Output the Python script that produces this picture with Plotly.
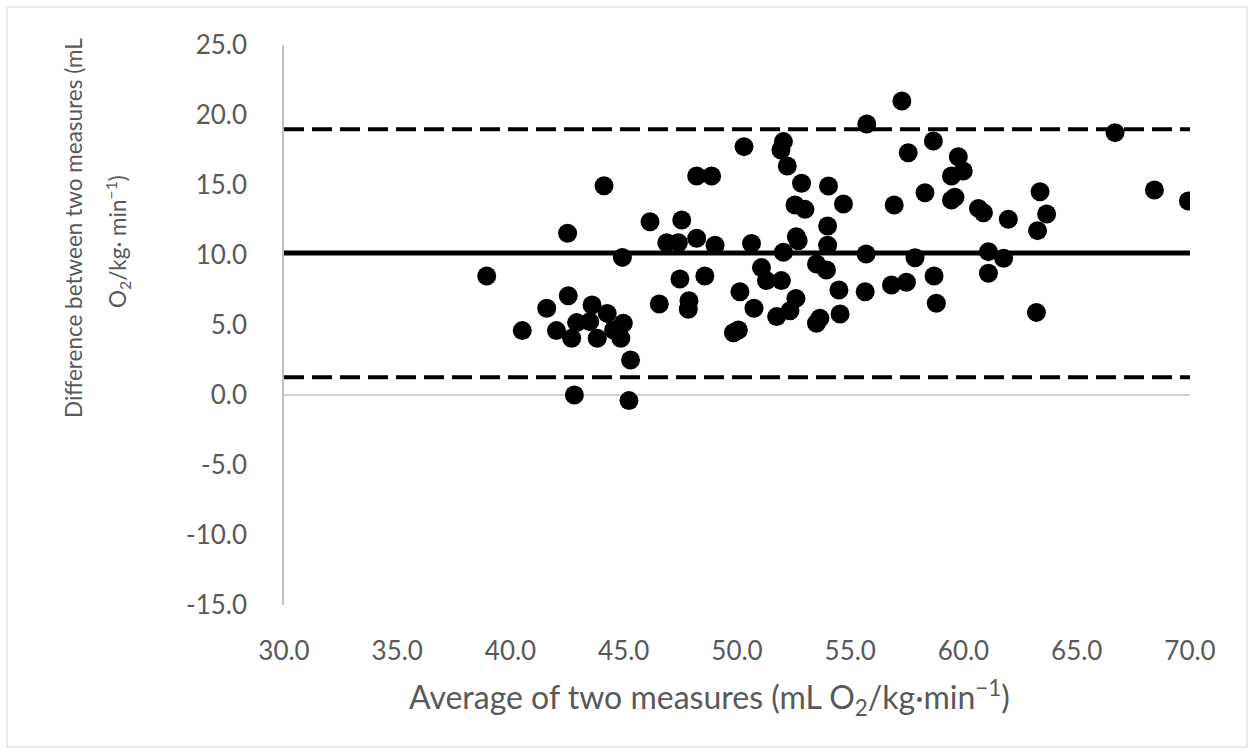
import plotly.graph_objects as go

avg_x = [38.95, 40.52, 41.6, 42.03, 42.52, 42.55, 42.7, 42.82, 42.92, 43.5, 43.6, 43.83, 44.13, 44.27, 44.55,
         44.87, 44.94, 44.98, 45.23, 45.3, 46.16, 46.57, 46.9, 47.41, 47.48, 47.56, 47.85, 47.88, 48.22, 48.22,
         48.58, 48.88, 49.03, 49.84, 50.06, 50.13, 50.31, 50.64, 50.75, 51.08, 51.3, 51.75, 51.94, 51.96, 52.05,
         52.05, 52.22, 52.34, 52.56, 52.6, 52.62, 52.7, 52.85, 53.0, 53.51, 53.51, 53.66, 53.95, 54.0, 54.0,
         54.04, 54.5, 54.55, 54.7, 55.66, 55.7, 55.73, 56.82, 56.94, 57.28, 57.48, 57.56, 57.86, 58.3, 58.67,
         58.7, 58.8, 59.47, 59.47, 59.62, 59.77, 59.99, 60.66, 60.88, 61.1, 61.1, 61.77, 61.98, 63.22, 63.27,
         63.38, 63.67, 66.69, 68.43, 69.93]
diff_y = [8.5, 4.6, 6.19, 4.6, 11.55, 7.09, 4.05, 0.0, 5.17, 5.24, 6.43, 4.05, 14.95, 5.83, 4.64,
          4.05, 9.83, 5.12, -0.4, 2.5, 12.38, 6.5, 10.88, 10.88, 8.28, 12.5, 6.12, 6.74, 15.64, 11.19,
          8.5, 15.64, 10.7, 4.45, 4.64, 7.38, 17.74, 10.83, 6.19, 9.1, 8.17, 5.6, 17.5, 8.17, 18.1,
          10.19, 16.36, 6.02, 13.57, 6.9, 11.3, 11.02, 15.12, 13.26, 9.36, 5.12, 5.48, 8.93, 12.07, 10.7,
          14.93, 7.5, 5.79, 13.64, 7.38, 10.07, 19.36, 7.86, 13.57, 21.0, 8.05, 17.31, 9.81, 14.45, 18.14,
          8.5, 6.55, 15.64, 13.93, 14.12, 17.02, 16.0, 13.33, 13.02, 10.24, 8.69, 9.76, 12.55, 5.9, 11.74,
          14.52, 12.93, 18.74, 14.64, 13.86]

mean_diff = 10.15
upper_loa = 18.98
lower_loa = 1.27
x_range = [30, 70]
y_range = [-15, 25]
x_ticks = [30, 35, 40, 45, 50, 55, 60, 65, 70]
y_ticks = [-15, -10, -5, 0, 5, 10, 15, 20, 25]

FONT = "Lato"
GREY = "#595959"

fig = go.Figure()

fig.add_trace(go.Scatter(x=x_range, y=[upper_loa, upper_loa], mode="lines",
                         line=dict(color="black", width=4, dash="20px,8px"), hoverinfo="skip"))
fig.add_trace(go.Scatter(x=x_range, y=[lower_loa, lower_loa], mode="lines",
                         line=dict(color="black", width=4, dash="20px,8px"), hoverinfo="skip"))
fig.add_trace(go.Scatter(x=x_range, y=[mean_diff, mean_diff], mode="lines",
                         line=dict(color="black", width=5), hoverinfo="skip"))
fig.add_trace(go.Scatter(x=avg_x, y=diff_y, mode="markers",
                         marker=dict(color="black", size=19, line=dict(width=0))))

# horizontal axis line at zero
fig.add_shape(type="line", xref="x", yref="y", x0=30, x1=70, y0=0, y1=0,
              line=dict(color="#BFBFBF", width=1.5), layer="below")

# outer chart border
L, R, T, B = 284, 1190, 45, 605
W, H = R - L, B - T
def px_x(p):
    return (p - L) / W
def px_y(p):
    return (B - p) / H
fig.add_shape(type="rect", xref="paper", yref="paper",
              x0=px_x(7), x1=px_x(1247), y0=px_y(747), y1=px_y(7),
              line=dict(color="#D9D9D9", width=1.2), layer="below")

fig.add_annotation(xref="paper", yref="paper", x=px_x(709), y=px_y(697),
                   xanchor="center", yanchor="middle",
                   text="Average of two measures (mL O<sub>2</sub>/kg·min<sup>−1</sup>)",
                   showarrow=False, font=dict(family=FONT, size=32, color=GREY))
fig.add_annotation(xref="paper", yref="paper", x=px_x(74), y=px_y(228),
                   xanchor="center", yanchor="middle",
                   text="Difference between two measures (mL",
                   textangle=-90, showarrow=False,
                   font=dict(family=FONT, size=22.5, color=GREY))
fig.add_annotation(xref="paper", yref="paper", x=px_x(118), y=px_y(242),
                   xanchor="center", yanchor="middle",
                   text="O<sub>2</sub>/kg· min<sup>−1</sup>)",
                   textangle=-90, showarrow=False,
                   font=dict(family=FONT, size=22.5, color=GREY))

fig.update_layout(
    width=1254, height=754,
    margin=dict(l=L, r=1254 - R, t=T, b=754 - B),
    paper_bgcolor="white", plot_bgcolor="white",
    showlegend=False,
    font=dict(family=FONT, color=GREY),
)
fig.update_xaxes(range=x_range, tickvals=x_ticks, ticktext=[f"{v:.1f}" for v in x_ticks],
                 showgrid=False, zeroline=False, showline=False, ticks="",
                 ticklabelstandoff=28, tickfont=dict(family=FONT, size=26, color=GREY))
fig.update_yaxes(range=y_range, tickvals=y_ticks, ticktext=[f"{v:.1f}" for v in y_ticks],
                 showgrid=False, zeroline=False, showline=True, linecolor="#BFBFBF", linewidth=1.5,
                 ticks="", ticklabelstandoff=30, tickfont=dict(family=FONT, size=26, color=GREY))

fig.write_html("out.html")
